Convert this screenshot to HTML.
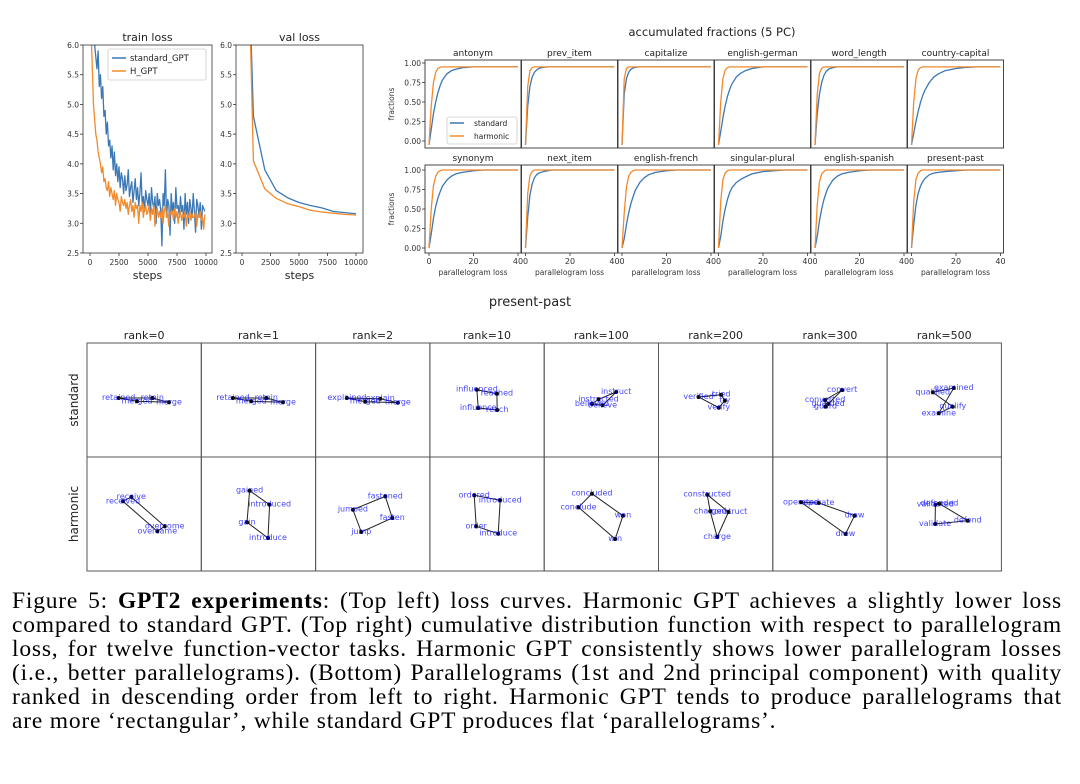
<!DOCTYPE html>
<html><head><meta charset="utf-8"><style>
body{margin:0;background:#fff;width:1080px;height:784px;overflow:hidden;position:relative;font-family:"DejaVu Sans",sans-serif}
svg{position:absolute;left:0;top:0}
.cap{position:absolute;left:12px;width:1050px;font-family:"Liberation Serif",serif;font-size:23.5px;letter-spacing:0.8px;line-height:24px;white-space:nowrap;color:#000}
.j{text-align:justify;text-align-last:justify}
</style></head><body>
<svg id="fig" width="1080" height="784" xmlns="http://www.w3.org/2000/svg"></svg>
<div class="cap j" style="top:589px">Figure 5: <b>GPT2 experiments</b>: (Top left) loss curves. Harmonic GPT achieves a slightly lower loss</div>
<div class="cap j" style="top:613px">compared to standard GPT. (Top right) cumulative distribution function with respect to parallelogram</div>
<div class="cap j" style="top:637px">loss, for twelve function-vector tasks. Harmonic GPT consistently shows lower parallelogram losses</div>
<div class="cap j" style="top:661px">(i.e., better parallelograms). (Bottom) Parallelograms (1st and 2nd principal component) with quality</div>
<div class="cap j" style="top:685px">ranked in descending order from left to right. Harmonic GPT tends to produce parallelograms that</div>
<div class="cap" style="top:709px">are more ‘rectangular’, while standard GPT produces flat ‘parallelograms’.</div>
<script>
// ---------- data ----------
const trainSteps = Array.from({length:100},(_, i)=>i*100);
const trainStd = [7.5,7.0,6.6,6.3,6.0,5.8,5.6,5.9,5.3,5.5,
5.1,5.3,4.8,4.9,4.5,4.7,4.3,4.4,4.1,4.3,
3.9,4.2,3.8,4.0,3.7,3.95,3.6,3.85,3.75,3.5,
3.8,3.55,3.65,3.9,3.45,3.6,3.7,3.35,3.55,3.75,
3.4,3.6,3.3,3.5,3.85,3.3,3.45,3.2,3.55,3.4,
3.3,3.5,3.1,3.6,3.35,3.25,3.45,3.0,3.5,3.3,
3.4,3.2,2.62,3.5,3.3,3.9,3.1,3.4,3.3,2.8,
3.5,3.2,3.35,3.0,3.6,3.25,3.3,3.1,3.45,3.2,
3.3,2.9,3.5,3.15,3.35,3.0,3.4,3.25,3.1,3.5,
3.2,2.85,3.4,3.3,3.1,3.35,2.9,3.3,3.25,3.2];
const trainH = [7.0,6.2,5.6,5.0,4.75,4.5,4.4,4.2,4.1,4.0,
3.85,3.95,3.7,3.75,3.6,3.55,3.7,3.45,3.6,3.5,
3.4,3.55,3.3,3.5,3.4,3.35,3.2,3.45,3.35,3.3,
3.4,3.25,3.35,3.15,3.3,3.4,3.2,3.3,3.1,3.35,
3.25,3.3,3.0,3.3,3.2,3.35,3.1,3.25,3.3,3.15,
3.2,3.3,3.05,3.25,3.15,3.3,2.95,3.2,3.25,3.1,
3.2,3.1,3.25,3.0,3.2,3.3,3.1,3.15,2.95,3.2,
3.15,3.2,3.05,3.25,3.1,3.2,3.0,3.15,3.2,3.05,
3.15,3.1,3.2,2.95,3.15,3.1,3.2,3.05,3.15,3.1,
3.1,3.2,2.95,3.15,3.1,3.2,3.05,3.1,2.9,3.15];
const valSteps = [500,1000,2000,3000,4000,5000,6000,7000,8000,9000,10000];
const valStd = [8.0,4.8,3.9,3.55,3.43,3.35,3.3,3.26,3.2,3.18,3.16];
const valH = [8.0,4.05,3.58,3.42,3.33,3.28,3.22,3.19,3.17,3.15,3.14];
const lossTicksY = [2.5,3.0,3.5,4.0,4.5,5.0,5.5,6.0];
const lossTicksX = [0,2500,5000,7500,10000];

const tasks = ["antonym","prev_item","capitalize","english-german","word_length","country-capital",
"synonym","next_item","english-french","singular-plural","english-spanish","present-past"];
const cdfX = [0,1,2,3,4,5,6,8,10,12,15,20,25,30,40];
const cdfStd = [
[-0.05,0.15,0.35,0.5,0.62,0.71,0.78,0.86,0.9,0.92,0.94,0.95,0.95,0.95,0.95],
[-0.05,0.45,0.7,0.82,0.88,0.91,0.93,0.945,0.95,0.95,0.95,0.95,0.95,0.95,0.95],
[-0.05,0.6,0.8,0.88,0.92,0.935,0.945,0.95,0.95,0.95,0.95,0.95,0.95,0.95,0.95],
[-0.05,0.12,0.3,0.45,0.57,0.66,0.73,0.82,0.87,0.9,0.93,0.95,0.95,0.95,0.95],
[-0.05,0.35,0.6,0.75,0.84,0.89,0.92,0.94,0.95,0.95,0.95,0.95,0.95,0.95,0.95],
[-0.05,0.1,0.25,0.38,0.49,0.58,0.65,0.75,0.82,0.86,0.9,0.93,0.945,0.95,0.95],
[-0.0,0.18,0.38,0.53,0.64,0.72,0.79,0.87,0.92,0.95,0.97,0.99,1.0,1.0,1.0],
[0.0,0.4,0.68,0.82,0.9,0.94,0.96,0.98,0.99,1.0,1.0,1.0,1.0,1.0,1.0],
[0.0,0.12,0.3,0.45,0.57,0.66,0.74,0.84,0.9,0.94,0.97,0.99,1.0,1.0,1.0],
[0.0,0.15,0.35,0.5,0.62,0.71,0.77,0.84,0.88,0.91,0.95,0.98,0.99,1.0,1.0],
[0.0,0.15,0.35,0.5,0.62,0.71,0.78,0.87,0.92,0.95,0.97,0.99,1.0,1.0,1.0],
[0.0,0.3,0.55,0.7,0.79,0.85,0.89,0.94,0.96,0.97,0.98,0.99,1.0,1.0,1.0]];
const cdfH = [
[-0.05,0.45,0.75,0.88,0.93,0.945,0.95,0.95,0.95,0.95,0.95,0.95,0.95,0.95,0.95],
[-0.05,0.7,0.9,0.94,0.95,0.95,0.95,0.95,0.95,0.95,0.95,0.95,0.95,0.95,0.95],
[-0.05,0.8,0.93,0.95,0.95,0.95,0.95,0.95,0.95,0.95,0.95,0.95,0.95,0.95,0.95],
[-0.05,0.5,0.8,0.91,0.94,0.95,0.95,0.95,0.95,0.95,0.95,0.95,0.95,0.95,0.95],
[-0.05,0.6,0.87,0.93,0.95,0.95,0.95,0.95,0.95,0.95,0.95,0.95,0.95,0.95,0.95],
[-0.05,0.5,0.8,0.91,0.94,0.95,0.95,0.95,0.95,0.95,0.95,0.95,0.95,0.95,0.95],
[0.0,0.5,0.8,0.92,0.97,0.99,1.0,1.0,1.0,1.0,1.0,1.0,1.0,1.0,1.0],
[0.0,0.7,0.93,0.98,1.0,1.0,1.0,1.0,1.0,1.0,1.0,1.0,1.0,1.0,1.0],
[0.0,0.45,0.78,0.92,0.97,0.99,1.0,1.0,1.0,1.0,1.0,1.0,1.0,1.0,1.0],
[0.0,0.6,0.88,0.96,0.99,1.0,1.0,1.0,1.0,1.0,1.0,1.0,1.0,1.0,1.0],
[0.0,0.55,0.85,0.95,0.98,1.0,1.0,1.0,1.0,1.0,1.0,1.0,1.0,1.0,1.0],
[0.0,0.6,0.88,0.96,0.99,1.0,1.0,1.0,1.0,1.0,1.0,1.0,1.0,1.0,1.0]];
const cdfTicksY = [0,0.25,0.5,0.75,1.0];
const cdfTickLabelsY = ["0.00","0.25","0.50","0.75","1.00"];
const cdfTicksX = [0,20,40];

const ranks = ["rank=0","rank=1","rank=2","rank=10","rank=100","rank=200","rank=300","rank=500"];
const stdWords = [
["retained","retain","merge","merged"],["retained","retain","merge","merged"],["explained","explain","merge","merged"],
["influenced","reached","reach","influence"],["instructed","instruct","believe","believed"],["verified","tried","try","verify"],
["converted","convert","guarded","guard"],["qualified","examined","examine","qualify"]];
const stdPts = [
[[31.7,55],[65.3,55],[82,59.3],[50,58.3]],[[31.7,55],[65,55],[81.7,59.3],[50,58.3]],[[31.3,55],[64.7,55.7],[82.3,59.7],[49.7,58.7]],
[[47,46.7],[67,50.7],[67.3,67],[48.3,65]],[[54.3,56.3],[72,49],[58.3,62.3],[47.7,61]],[[40,54],[62.7,51.7],[66.3,57.7],[60.3,64.7]],
[[52.3,57],[69.3,47],[55.3,61],[52.7,63.7]],[[45.7,49.3],[66.7,45],[51.7,70.3],[65.7,63.7]]];
const harmWords = [
["received","receive","overcome","overcame"],["gained","introduced","introduce","gain"],["jumped","fastened","fasten","jump"],
["ordered","introduced","introduce","order"],["concluded","won","win","conclude"],["constructed","construct","charge","charged"],
["operated","operate","draw","drew"],["validated","defended","defend","validate"]];
const harmPts = [
[[36,44.3],[44.3,40],[77.7,69.3],[70.3,74.3]],[[48.3,33.7],[68.3,47.7],[66.7,81],[45.7,65.3]],[[37.3,52.7],[69.7,39.3],[76.7,61],[45.7,75]],
[[44.3,38.3],[70.3,43.3],[68.3,76.7],[46.3,69.3]],[[47.7,36.7],[78.7,58.7],[71,82],[34.3,50.3]],[[48.7,37.7],[70,55],[58.7,80],[51.7,54.3]],
[[28.3,45.3],[46,46],[81.7,58.7],[72.7,77]],[[48.3,47.7],[52.3,46.7],[80.7,63.7],[48,67]]];

// ---------- helpers ----------
const NS="http://www.w3.org/2000/svg";
const fig=document.getElementById('fig');
function el(tag,attrs,parent){const e=document.createElementNS(NS,tag);for(const k in attrs)e.setAttribute(k,attrs[k]);(parent||fig).appendChild(e);return e;}
function txt(x,y,s,size,anchor,fill,parent,extra){const t=el('text',Object.assign({x:x,y:y,'font-size':size,'text-anchor':anchor||'middle',fill:fill||'#222','font-family':'DejaVu Sans, sans-serif'},extra||{}),parent);t.textContent=s;return t;}
function lin(d0,d1,r0,r1){return v=>r0+(v-d0)*(r1-r0)/(d1-d0);}
const BLUE='#3b78b5', ORANGE='#f28a2c';

// ---------- loss plots ----------
function lossPlot(name,left,right,x0px,x10k,title,xs,series){
  const g=el('g',{});
  
  
  const top=45,bot=253;
  const sx=lin(0,10000,x0px,x10k), sy=lin(2.5,6.0,bot,top);
  const cid='clip-'+name;
  const cp=el('clipPath',{id:cid},g); el('rect',{x:left,y:top,width:right-left,height:bot-top},cp);
  series.forEach(([vals,col,nm])=>{
    const p=el('polyline',{points:xs.map((s,i)=>sx(s)+','+sy(vals[i])).join(' '),fill:'none',stroke:col,'stroke-width':1.3,'clip-path':`url(#${cid})`,'stroke-linejoin':'round'},g);
    
    
  });
  el('rect',{x:left,y:top,width:right-left,height:bot-top,fill:'none',stroke:'#333','stroke-width':0.8},g);
  lossTicksY.forEach(v=>{el('line',{x1:left-3,x2:left,y1:sy(v),y2:sy(v),stroke:'#333','stroke-width':0.8},g);txt(left-4,sy(v)+3,v.toFixed(1),7.5,'end','#333',g);});
  lossTicksX.forEach(v=>{el('line',{x1:sx(v),x2:sx(v),y1:bot,y2:bot+3,stroke:'#333','stroke-width':0.8},g);txt(sx(v),bot+12,String(v),7.5,'middle','#333',g);});
  txt((left+right)/2,41,title,11,'middle','#222',g);
  txt((left+right)/2,279,'steps',11,'middle','#222',g);
  return g;
}
lossPlot('train-loss-chart',83,212,90,206,'train loss',trainSteps,[[trainStd,BLUE,'train-standard-line'],[trainH,ORANGE,'train-harmonic-line']]);
lossPlot('val-loss-chart',236,363,242,356,'val loss',valSteps,[[valStd,BLUE,'val-standard-line'],[valH,ORANGE,'val-harmonic-line']]);
// train legend
const lg=el('g',{});


el('rect',{x:108,y:49,width:98,height:31,rx:2,fill:'#fff',stroke:'#ccc','stroke-width':0.8},lg);
el('line',{x1:112,x2:126,y1:58,y2:58,stroke:BLUE,'stroke-width':1.5},lg);
txt(130,61,'standard_GPT',8.5,'start','#222',lg);
el('line',{x1:112,x2:126,y1:71,y2:71,stroke:ORANGE,'stroke-width':1.5},lg);
txt(130,74,'H_GPT',8.5,'start','#222',lg);

// ---------- CDF grid ----------
txt(712,36,'accumulated fractions (5 PC)',11.5,'middle','#222');
tasks.forEach((t,i)=>{
  const c=i%6, r=Math.floor(i/6);
  const L=425+96.5*c, R=L+96, top=r?165:60, bot=r?253:148;
  const y1=r?170:63, y0=r?248:141;
  const sx=lin(0,40,L+4,L+93), sy=lin(0,1,y0,y1);
  const g=el('g',{});
  
  
  [[cdfStd[i],BLUE,'standard'],[cdfH[i],ORANGE,'harmonic']].forEach(([vals,col,nm])=>{
    const p=el('polyline',{points:cdfX.map((x,k)=>sx(x)+','+sy(vals[k])).join(' '),fill:'none',stroke:col,'stroke-width':1.3,'stroke-linejoin':'round'},g);
    
    
  });
  el('rect',{x:L,y:top,width:R-L,height:bot-top,fill:'none',stroke:'#333','stroke-width':0.9},g);
  txt((L+R)/2,top-4,t,9,'middle','#222',g);
  if(c===0){
    cdfTicksY.forEach((v,k)=>{el('line',{x1:L-3,x2:L,y1:sy(v),y2:sy(v),stroke:'#333','stroke-width':0.8},g);txt(L-4,sy(v)+3,cdfTickLabelsY[k],7.5,'end','#333',g);});
    txt(0,0,'fractions',7.5,'middle','#333',g,{transform:`translate(394,${(top+bot)/2}) rotate(-90)`});
  }
  if(r===1){
    cdfTicksX.forEach(v=>{el('line',{x1:sx(v),x2:sx(v),y1:bot,y2:bot+3,stroke:'#333','stroke-width':0.8},g);txt(sx(v),bot+11,String(v),8,'middle','#333',g);});
    txt((L+R)/2,bot+22,'parallelogram loss',7.5,'middle','#333',g);
  }
});
const cl=el('g',{});


el('rect',{x:447,y:117,width:70,height:27,rx:2,fill:'#fff',stroke:'#ccc','stroke-width':0.8},cl);
el('line',{x1:450,x2:464,y1:123,y2:123,stroke:BLUE,'stroke-width':1.5},cl);
txt(474,126,'standard',7.5,'start','#222',cl);
el('line',{x1:450,x2:464,y1:136,y2:136,stroke:ORANGE,'stroke-width':1.5},cl);
txt(474,139,'harmonic',7.5,'start','#222',cl);

// ---------- parallelogram grid ----------
txt(530,306,'present-past',13,'middle','#222');
const PW=114.3, PH=114;
function para(row,words,pts,yTop){
  ranks.forEach((rk,c)=>{
    const L=87+PW*c;
    const sx=lin(0,100,L,L+PW), sy=lin(0,100,yTop,yTop+PH);
    const g=el('g',{});
    
    
    el('rect',{x:L,y:yTop,width:PW,height:PH,fill:'none',stroke:'#555','stroke-width':1},g);
    const P=pts[c];
    el('polygon',{points:P.map(p=>sx(p[0]*100/PW)+','+sy(p[1]*100/PH)).join(' '),fill:'none',stroke:'#222','stroke-width':1},g);
    P.forEach((p,k)=>{
      const cx=sx(p[0]*100/PW), cy=sy(p[1]*100/PH);
      el('circle',{cx:cx,cy:cy,r:2,fill:'#000'},g);
      txt(cx,cy+2,words[c][k],8,'middle','rgba(20,20,255,0.8)',g);
    });
    if(row==='standard') txt(L+PW/2,339,rk,11,'middle','#222',g);
  });
}
para('standard',stdWords,stdPts,343);
para('harmonic',harmWords,harmPts,457);
txt(0,0,'standard',12,'middle','#222',null,{transform:'translate(78,400) rotate(-90)'});
txt(0,0,'harmonic',12,'middle','#222',null,{transform:'translate(78,514) rotate(-90)'});
</script>
</body></html>
